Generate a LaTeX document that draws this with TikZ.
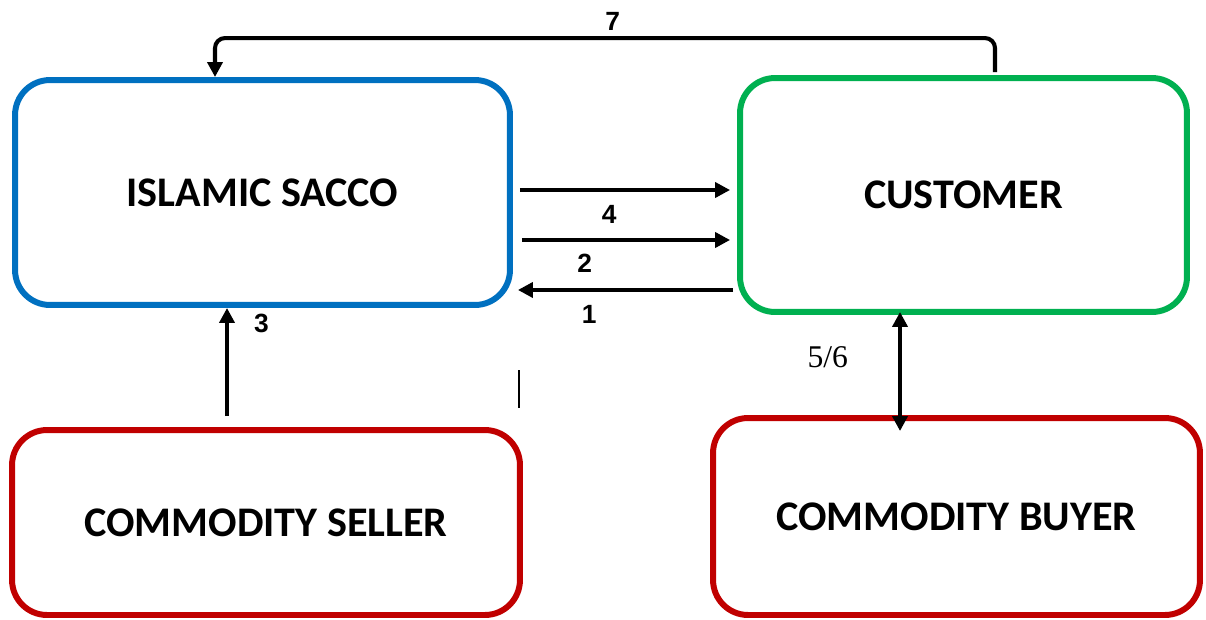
\documentclass[tikz,border=0pt]{standalone}
\usepackage{fontspec}
\setmainfont{Carlito}
\newfontfamily\arialfont{Liberation Sans}
\newfontfamily\timesfont{Liberation Serif}
\usetikzlibrary{arrows.meta,positioning}
\definecolor{saccoblue}{RGB}{0,112,192}
\definecolor{custgreen}{RGB}{0,176,80}
\definecolor{tradered}{RGB}{192,0,0}

\begin{document}
\begin{tikzpicture}[
    x=0.02cm, y=-0.02cm,
    box/.style={rectangle, draw, line width=3.4pt, rounded corners=0.7cm, font=\bfseries\fontsize{24}{28}\selectfont},
    arr/.style={line width=2.3pt, -{Triangle[length=0.3cm,width=0.3cm]}},
    lbl/.style={font=\arialfont\bfseries\fontsize{15}{18}\selectfont, inner sep=0pt}
]
    \useasboundingbox (0,0) rectangle (1206,619);

    % Parties
    \node[box, draw=saccoblue, minimum width=9.9cm, minimum height=4.5cm] (sacco) at (262.5,192.5) {ISLAMIC SACCO};
    \node[box, draw=custgreen, minimum width=8.94cm, minimum height=4.68cm] (customer) at (963.5,195) {CUSTOMER};
    \node[box, draw=tradered, minimum width=10.16cm, minimum height=3.7cm] (seller) at (266,522.5) {COMMODITY SELLER};
    \node[box, draw=tradered, minimum width=9.74cm, minimum height=3.94cm] (buyer) at (956.5,516.5) {COMMODITY BUYER};

    % Flows between sacco and customer
    \coordinate (f4) at ([yshift=0.05cm]sacco.east);
    \coordinate (f2) at ([yshift=-0.95cm]sacco.east);
    \coordinate (f1) at ([yshift=-1.95cm]sacco.east);
    \draw[arr, shorten <=0.14cm, shorten >=0.14cm] (f4) -- (f4 -| customer.west) node[lbl, pos=0.43, below=0.26cm] {4};
    \draw[arr, shorten <=0.18cm, shorten >=0.14cm] (f2) -- (f2 -| customer.west) node[lbl, pos=0.32, below=0.24cm] {2};
    \draw[arr, shorten <=0.08cm, shorten >=0.1cm] (f1 -| customer.west) -- (f1) node[lbl, pos=0.66, below=0.26cm] {1};

    % Seller to sacco
    \coordinate (f3) at ([xshift=-0.78cm]seller.north);
    \draw[arr, shorten <=0.22cm] (f3) -- (f3 |- sacco.south) node[lbl, pos=0.87, right=0.5cm] {3};

    % Customer and buyer
    \coordinate (f5) at ([xshift=-1.27cm]customer.south);
    \draw[line width=2.3pt, {Triangle[length=0.3cm,width=0.3cm]}-{Triangle[length=0.3cm,width=0.3cm]}, shorten <=-0.06cm, shorten >=-0.32cm]
        (f5) -- (f5 |- buyer.north) node[pos=0.42, left=1cm, inner sep=0pt, font=\timesfont\fontsize{18}{20}\selectfont] {5/6};

    % Customer back to sacco
    \coordinate (f7) at ([xshift=0.63cm]customer.north);
    \coordinate (t7) at ([xshift=-0.95cm]sacco.north);
    \draw[arr, rounded corners=0.2cm, shorten <=0.06cm] (f7) -- ++(0,0.74cm) -| node[lbl, pos=0.245, above=0.12cm] {7} (t7);

    \draw[line width=0.8pt] (519,370) -- (519,408);
\end{tikzpicture}
\end{document}
